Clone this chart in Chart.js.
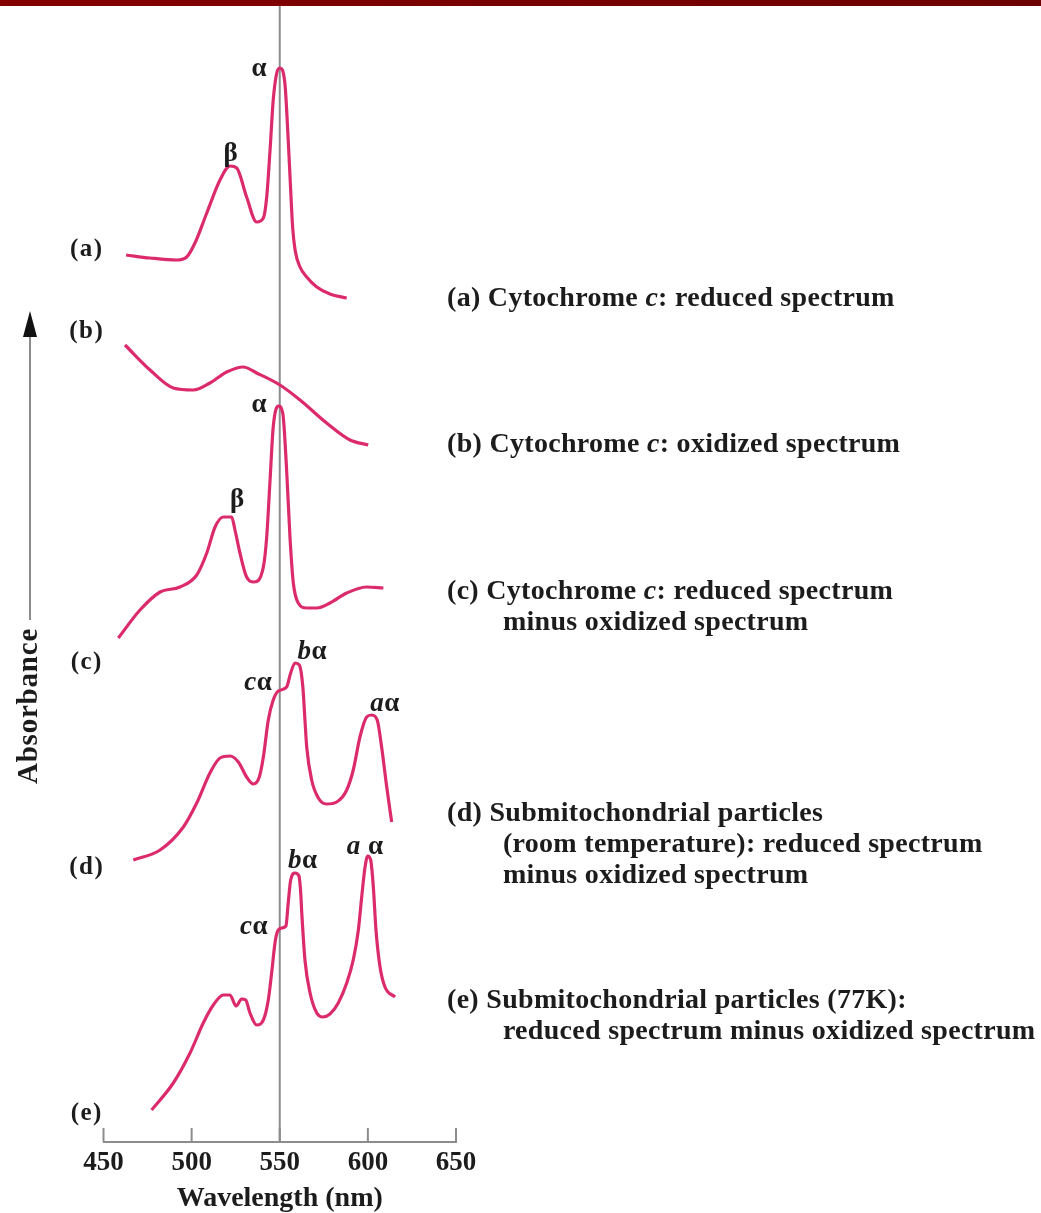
<!DOCTYPE html>
<html><head><meta charset="utf-8">
<script src="https://cdn.jsdelivr.net/npm/chart.js@4/dist/chart.umd.min.js"></script>
<style>html,body{margin:0;padding:0;background:#fff}#wrap{position:relative;width:1041px;height:1213px}</style>
</head><body><div id="wrap"><canvas id="c"></canvas></div>
<script>
// ---- data (wavelength in nm, absorbance in arbitrary stacked units) ----
const wavelengthTicks = [450, 500, 550, 600, 650];
const referenceLine = 550;

const aWl  = [462.8, 476.4, 491.5, 497.2, 501.9, 508.6, 516.1, 521.8, 525.6, 531.2, 536.9, 540.7, 542.6, 544.5, 546.3, 548.3, 550.1, 552.9, 554.8, 556.2, 557.3, 558.7, 561.5, 565.3, 571.0, 578.5, 588.0];
const aAbs = [88.7, 88.4, 88.2, 88.5, 89.9, 92.9, 96.2, 97.6, 97.4, 94.5, 92.0, 92.4, 94.5, 99.2, 104.2, 106.9, 107.4, 105.9, 100.2, 95.2, 91.5, 89.2, 87.5, 86.5, 85.5, 84.8, 84.4];

const bWl  = [462.2, 476.4, 489.6, 501.0, 510.4, 519.9, 529.3, 536.9, 550.1, 561.5, 576.6, 589.9, 600.2];
const bAbs = [79.7, 77.2, 75.4, 75.2, 75.9, 77.0, 77.5, 76.9, 75.7, 74.2, 71.9, 70.2, 69.7];

const cWl  = [458.4, 470.7, 482.1, 493.4, 502.9, 508.6, 513.3, 518.0, 522.7, 524.6, 527.4, 531.2, 535.4, 540.7, 542.6, 544.5, 546.3, 549.2, 551.7, 553.9, 555.8, 557.7, 560.5, 565.3, 571.0, 578.5, 588.0, 599.3, 608.8];
const cAbs = [50.4, 53.2, 55.0, 55.5, 56.7, 58.9, 61.5, 62.5, 62.5, 61.2, 58.9, 56.5, 56.0, 57.5, 60.5, 66.2, 71.5, 73.6, 72.9, 67.2, 60.5, 55.9, 53.9, 53.4, 53.4, 53.9, 54.9, 55.5, 55.4];

const dWl  = [466.9, 482.1, 495.3, 502.9, 510.4, 516.1, 521.8, 526.5, 531.2, 535.0, 538.4, 540.7, 543.5, 546.3, 549.2, 553.9, 556.2, 558.7, 561.1, 563.1, 564.3, 565.3, 568.1, 571.9, 576.6, 582.3, 588.0, 591.7, 595.5, 599.3, 602.2, 605.3, 607.8, 610.7, 613.5];
const dAbs = [28.2, 29.2, 31.5, 33.9, 36.9, 38.4, 38.6, 38.0, 36.5, 35.8, 36.5, 38.5, 42.2, 44.2, 45.1, 45.5, 46.9, 47.9, 47.7, 45.5, 42.2, 39.5, 36.2, 34.4, 33.8, 34.0, 35.2, 37.2, 40.5, 42.5, 42.7, 42.2, 39.5, 35.5, 32.0];

const eWl  = [477.3, 489.6, 499.1, 506.6, 512.3, 518.0, 521.8, 525.2, 528.4, 530.7, 533.1, 536.9, 540.7, 543.5, 545.4, 547.3, 548.6, 551.1, 553.5, 554.8, 556.2, 558.7, 560.9, 561.9, 562.5, 564.3, 567.2, 571.0, 574.4, 578.5, 583.2, 588.0, 591.7, 594.6, 596.5, 598.4, 599.9, 601.6, 603.1, 604.6, 606.9, 609.7, 615.4];
const eAbs = [3.2, 5.9, 8.9, 11.9, 13.7, 14.7, 14.7, 13.6, 14.3, 14.2, 12.9, 11.7, 12.2, 14.2, 16.9, 19.9, 21.0, 21.4, 21.6, 23.9, 26.2, 26.9, 26.6, 24.9, 22.9, 18.2, 14.9, 12.9, 12.5, 12.8, 13.9, 15.9, 18.2, 21.2, 24.5, 27.5, 28.6, 28.2, 25.5, 21.2, 17.5, 15.5, 14.5];

const curveNames = ['(a)', '(b)', '(c)', '(d)', '(e)'];
// curve tags: [text, wavelength, absorbance]
const curveTags = [['(a)', 440.5, 89.2], ['(b)', 440.5, 81.0], ['(c)', 440.5, 47.9], ['(d)', 440.5, 27.4], ['(e)', 440.5, 2.8]];
// peak labels: [italic prefix, greek, wavelength, absorbance]
const peakLabels = [
  ['', 'α', 538.4, 107.3], ['', 'β', 522.3, 98.8],
  ['', 'α', 538.4, 73.7], ['', 'β', 525.9, 64.2],
  ['c', 'α', 537.8, 45.9], ['b', 'α', 568.5, 49.0], ['a', 'α', 609.7, 43.8],
  ['c', 'α', 535.4, 21.5], ['b', 'α', 563.0, 28.1], ['a ', 'α', 598.4, 29.5]
];
// descriptions: [segments, indent level, absorbance position]
const descLines = [
  [['(a) Cytochrome ', {i: 'c'}, ': reduced spectrum'], 0, 84.3],
  [['(b) Cytochrome ', {i: 'c'}, ': oxidized spectrum'], 0, 69.7],
  [['(c) Cytochrome ', {i: 'c'}, ': reduced spectrum'], 0, 55.0],
  [['minus oxidized spectrum'], 1, 51.9],
  [['(d) Submitochondrial particles'], 0, 32.8],
  [['(room temperature): reduced spectrum'], 1, 29.7],
  [['minus oxidized spectrum'], 1, 26.6],
  [['(e) Submitochondrial particles (77K):'], 0, 14.1],
  [['reduced spectrum minus oxidized spectrum'], 1, 11.0]
];
const descX = [644.9, 676.6];

const PINK = '#dc2b6d', GRAY = '#8c8c8c', TEXT = '#1c1c1c', FONT = "'Liberation Serif', 'DejaVu Serif', serif";

function pts(xs, ys) { return xs.map((x, i) => ({x, y: ys[i]})); }
const series = [[aWl, aAbs], [bWl, bAbs], [cWl, cAbs], [dWl, dAbs], [eWl, eAbs]];

function drawSegs(ctx, segs, x, y, align, size, spacing) {
  ctx.letterSpacing = (spacing || 0) + 'px';
  const parts = segs.map(s => typeof s === 'string' ? {t: s, f: `bold ${size}px ${FONT}`} : {t: s.i, f: `italic bold ${size}px ${FONT}`});
  let w = 0;
  parts.forEach(p => { ctx.font = p.f; p.w = ctx.measureText(p.t).width; w += p.w; });
  let cx = align === 'center' ? x - w / 2 : x;
  ctx.textAlign = 'left'; ctx.textBaseline = 'middle';
  parts.forEach(p => { ctx.font = p.f; ctx.fillText(p.t, cx, y); cx += p.w; });
  ctx.letterSpacing = '0px';
}

const deco = {
  id: 'deco',
  beforeDraw(chart) {
    const ctx = chart.ctx; ctx.save();
    ctx.fillStyle = '#fff'; ctx.fillRect(0, 0, chart.width, chart.height);
    const g = ctx.createLinearGradient(0, 0, chart.width, 0);
    g.addColorStop(0, '#840000'); g.addColorStop(1, '#6c0000');
    ctx.fillStyle = g; ctx.fillRect(0, 0, chart.width, chart.chartArea.top);
    ctx.restore();
  },
  beforeDatasetsDraw(chart) {
    const {ctx, chartArea: a, scales: {x}} = chart;
    ctx.save(); ctx.strokeStyle = GRAY; ctx.lineWidth = 2;
    const px = x.getPixelForValue(referenceLine);
    ctx.beginPath(); ctx.moveTo(px, a.top); ctx.lineTo(px, a.bottom); ctx.stroke();
    wavelengthTicks.forEach(v => {
      const tx = x.getPixelForValue(v);
      ctx.beginPath(); ctx.moveTo(tx, a.bottom); ctx.lineTo(tx, a.bottom - 14); ctx.stroke();
    });
    ctx.restore();
  },
  afterDraw(chart) {
    const {ctx, scales: {x, y}} = chart;
    ctx.save(); ctx.fillStyle = TEXT;
    curveTags.forEach(([t, wl, v]) => drawSegs(ctx, [t], x.getPixelForValue(wl), y.getPixelForValue(v), 'center', 25, 1.5));
    peakLabels.forEach(([p, gr, wl, v]) => drawSegs(ctx, p ? [{i: p}, gr] : [gr], x.getPixelForValue(wl), y.getPixelForValue(v), 'center', 27, 0.5));
    descLines.forEach(([segs, ind, v]) => drawSegs(ctx, segs, x.getPixelForValue(descX[ind]), y.getPixelForValue(v), 'left', 28, 0.3));
    // absorbance arrow
    const ax = x.getPixelForValue(408.3);
    const yTip = y.getPixelForValue(83.1), yEnd = y.getPixelForValue(52.2);
    ctx.strokeStyle = GRAY; ctx.lineWidth = 2;
    ctx.beginPath(); ctx.moveTo(ax, yEnd); ctx.lineTo(ax, yTip + 20); ctx.stroke();
    ctx.fillStyle = '#111';
    ctx.beginPath(); ctx.moveTo(ax, yTip); ctx.lineTo(ax - 7, yTip + 26); ctx.lineTo(ax + 7, yTip + 26); ctx.closePath(); ctx.fill();
    ctx.translate(ax, y.getPixelForValue(43.6)); ctx.rotate(-Math.PI / 2);
    ctx.fillStyle = TEXT; ctx.font = `bold 29px ${FONT}`; ctx.letterSpacing = '0.8px';
    ctx.textAlign = 'center'; ctx.textBaseline = 'middle';
    ctx.fillText('Absorbance', 0, 0);
    ctx.restore();
  }
};

new Chart(document.getElementById('c'), {
  type: 'line',
  data: {
    datasets: series.map(([xs, ys], i) => ({
      label: curveNames[i], data: pts(xs, ys), borderColor: PINK, borderWidth: 3.2,
      pointRadius: 0, fill: false, cubicInterpolationMode: 'monotone'
    }))
  },
  options: {
    responsive: true, maintainAspectRatio: false, animation: false,
    layout: {padding: {left: 103.5, right: 585, top: 6, bottom: 0}},
    plugins: {legend: {display: false}, tooltip: {enabled: false}},
    scales: {
      x: {
        type: 'linear', min: 450, max: 650,
        afterBuildTicks: s => { s.ticks = wavelengthTicks.map(v => ({value: v})); },
        ticks: {font: {family: FONT, size: 27, weight: 'bold', lineHeight: 1}, color: TEXT, padding: 8, maxRotation: 0},
        grid: {display: false, drawTicks: false},
        border: {display: true, color: GRAY, width: 2},
        title: {display: true, text: 'Wavelength (nm)', color: TEXT, font: {family: FONT, size: 28, weight: 'bold', lineHeight: 1}, padding: {top: 0, bottom: 0}}
      },
      y: {display: false, min: 0, max: 113.6}
    }
  },
  plugins: [deco]
});
</script></body></html>
